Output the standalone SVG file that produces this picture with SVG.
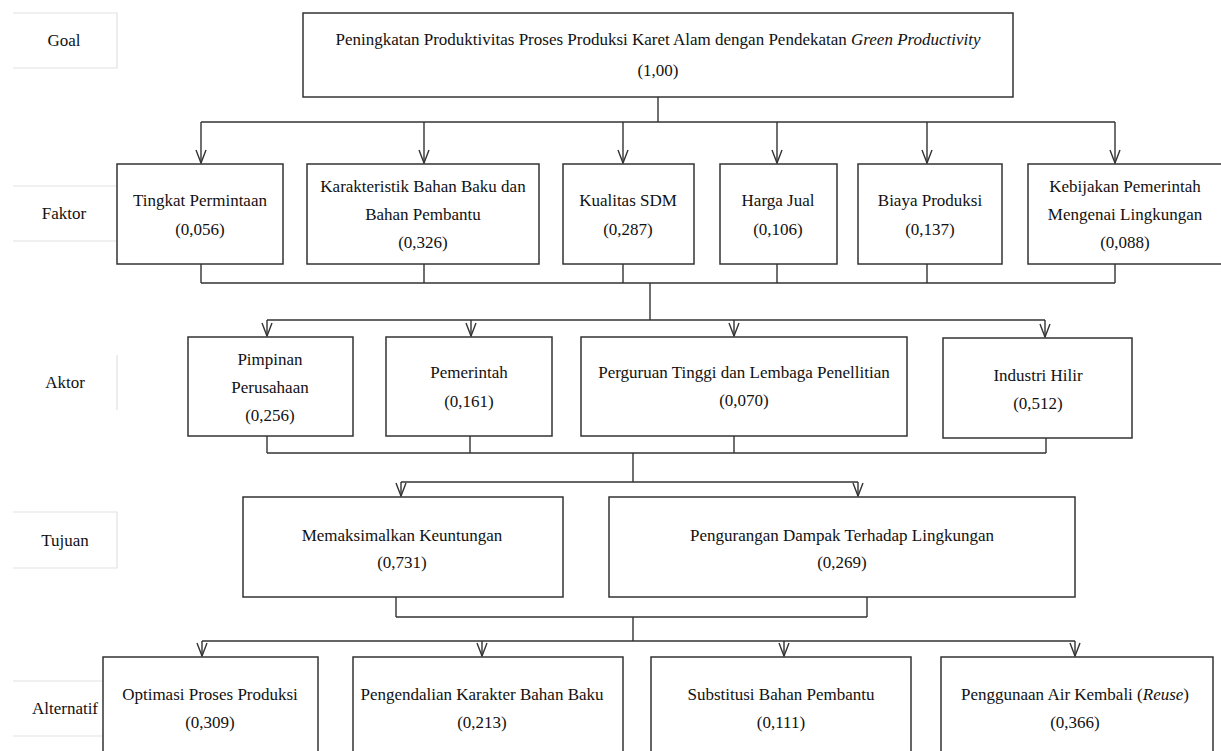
<svg xmlns="http://www.w3.org/2000/svg" width="1221" height="751" viewBox="0 0 1221 751">
<defs>
<style>
.bg{fill:#fff}
.box{fill:#fff;stroke:#333;stroke-width:1.5}
.lbl{fill:none;stroke:#e2e2e2;stroke-width:1.2}
.t{font-family:'Liberation Serif','Times New Roman',serif;font-size:17px;fill:#111;text-anchor:middle}
.c{fill:none;stroke:#333;stroke-width:1.4}
.a{fill:none;stroke:#333;stroke-width:1.4;marker-end:url(#arr)}
</style>
<marker id="arr" viewBox="-14 -6 16 12" refX="0" refY="0" markerWidth="16" markerHeight="12" markerUnits="userSpaceOnUse" orient="auto">
<path d="M-13,-5 L0,0 L-13,5" fill="none" stroke="#333" stroke-width="1.4"/>
</marker>
</defs>
<rect class="bg" x="0" y="0" width="1221" height="751"/>

<g id="levels">
<path class="lbl" d="M13,13 H117 V68 H13"/>
<text class="t" x="64" y="46">Goal</text>
<path class="lbl" d="M13,186 H117 M13,241 H117"/>
<text class="t" x="64" y="219">Faktor</text>
<path class="lbl" d="M117,355 V410"/>
<text class="t" x="65" y="388">Aktor</text>
<path class="lbl" d="M13,512 H117 V568 H13"/>
<text class="t" x="65" y="546">Tujuan</text>
<path class="lbl" d="M13,681 H103 M13,736 H103"/>
<text class="t" x="65" y="714">Alternatif</text>
</g>

<g id="connectors">
<path class="c" d="M658,97 V122 M201,122 H1115"/>
<path class="a" d="M201,122 V163"/>
<path class="a" d="M424,122 V163"/>
<path class="a" d="M623,122 V163"/>
<path class="a" d="M777,122 V163"/>
<path class="a" d="M927,122 V163"/>
<path class="a" d="M1115,122 V163"/>
<path class="c" d="M201,264 V283 M424,264 V283 M623,264 V283 M777,264 V283 M927,264 V283 M1115,264 V283 M201,283 H1115 M650,283 V320 M267,320 H1045"/>
<path class="a" d="M267,320 V336"/>
<path class="a" d="M471,320 V336"/>
<path class="a" d="M734,320 V336"/>
<path class="a" d="M1045,320 V337"/>
<path class="c" d="M267,436 V453 M470,436 V453 M734,436 V453 M1046,438 V453 M267,453 H1046 M633,453 V482 M401,482 H858"/>
<path class="a" d="M401,482 V496"/>
<path class="a" d="M858,482 V496"/>
<path class="c" d="M396,597 V617 M867,597 V617 M396,617 H867 M633,617 V641 M202,641 H1075"/>
<path class="a" d="M202,641 V656"/>
<path class="a" d="M482,641 V656"/>
<path class="a" d="M784,641 V656"/>
<path class="a" d="M1075,641 V656"/>
</g>

<g id="goal">
<rect class="box" x="303" y="13" width="710" height="84"/>
<text class="t" x="658" y="45">Peningkatan Produktivitas Proses Produksi Karet Alam  dengan Pendekatan <tspan font-style="italic">Green Productivity</tspan></text>
<text class="t" x="658" y="76">(1,00)</text>
</g>

<g id="f1">
<rect class="box" x="117" y="164" width="166" height="100"/>
<text class="t" x="200" y="206">Tingkat Permintaan</text>
<text class="t" x="200" y="235">(0,056)</text>
</g>
<g id="f2">
<rect class="box" x="307" y="164" width="232" height="100"/>
<text class="t" x="423" y="192">Karakteristik Bahan Baku dan</text>
<text class="t" x="423" y="220">Bahan Pembantu</text>
<text class="t" x="423" y="248">(0,326)</text>
</g>
<g id="f3">
<rect class="box" x="563" y="164" width="131" height="100"/>
<text class="t" x="628" y="206">Kualitas SDM</text>
<text class="t" x="628" y="235">(0,287)</text>
</g>
<g id="f4">
<rect class="box" x="720" y="164" width="117" height="100"/>
<text class="t" x="778" y="206">Harga Jual</text>
<text class="t" x="778" y="235">(0,106)</text>
</g>
<g id="f5">
<rect class="box" x="858" y="164" width="144" height="100"/>
<text class="t" x="930" y="206">Biaya Produksi</text>
<text class="t" x="930" y="235">(0,137)</text>
</g>
<g id="f6">
<rect class="box" x="1028" y="164" width="200" height="100"/>
<text class="t" x="1125" y="192">Kebijakan Pemerintah</text>
<text class="t" x="1125" y="220">Mengenai Lingkungan</text>
<text class="t" x="1125" y="248">(0,088)</text>
</g>

<g id="a1">
<rect class="box" x="188" y="337" width="165" height="99"/>
<text class="t" x="270" y="365">Pimpinan</text>
<text class="t" x="270" y="393">Perusahaan</text>
<text class="t" x="270" y="421">(0,256)</text>
</g>
<g id="a2">
<rect class="box" x="386" y="337" width="166" height="99"/>
<text class="t" x="469" y="378">Pemerintah</text>
<text class="t" x="469" y="407">(0,161)</text>
</g>
<g id="a3">
<rect class="box" x="581" y="337" width="326" height="99"/>
<text class="t" x="744" y="378">Perguruan Tinggi dan Lembaga Penellitian</text>
<text class="t" x="744" y="406">(0,070)</text>
</g>
<g id="a4">
<rect class="box" x="943" y="338" width="189" height="100"/>
<text class="t" x="1038" y="381">Industri Hilir</text>
<text class="t" x="1038" y="409">(0,512)</text>
</g>

<g id="t1">
<rect class="box" x="243" y="497" width="320" height="100"/>
<text class="t" x="402" y="541">Memaksimalkan Keuntungan</text>
<text class="t" x="402" y="568">(0,731)</text>
</g>
<g id="t2">
<rect class="box" x="609" y="497" width="466" height="100"/>
<text class="t" x="842" y="541">Pengurangan Dampak Terhadap Lingkungan</text>
<text class="t" x="842" y="568">(0,269)</text>
</g>

<g id="x1">
<rect class="box" x="103" y="657" width="215" height="110"/>
<text class="t" x="210" y="700">Optimasi Proses Produksi</text>
<text class="t" x="210" y="728">(0,309)</text>
</g>
<g id="x2">
<rect class="box" x="353" y="657" width="270" height="110"/>
<text class="t" x="482" y="700">Pengendalian Karakter Bahan Baku</text>
<text class="t" x="482" y="728">(0,213)</text>
</g>
<g id="x3">
<rect class="box" x="651" y="657" width="260" height="110"/>
<text class="t" x="781" y="700">Substitusi Bahan Pembantu</text>
<text class="t" x="781" y="728">(0,111)</text>
</g>
<g id="x4">
<rect class="box" x="941" y="657" width="272" height="110"/>
<text class="t" x="1075" y="700">Penggunaan Air Kembali (<tspan font-style="italic">Reuse</tspan>)</text>
<text class="t" x="1075" y="728">(0,366)</text>
</g>
</svg>
